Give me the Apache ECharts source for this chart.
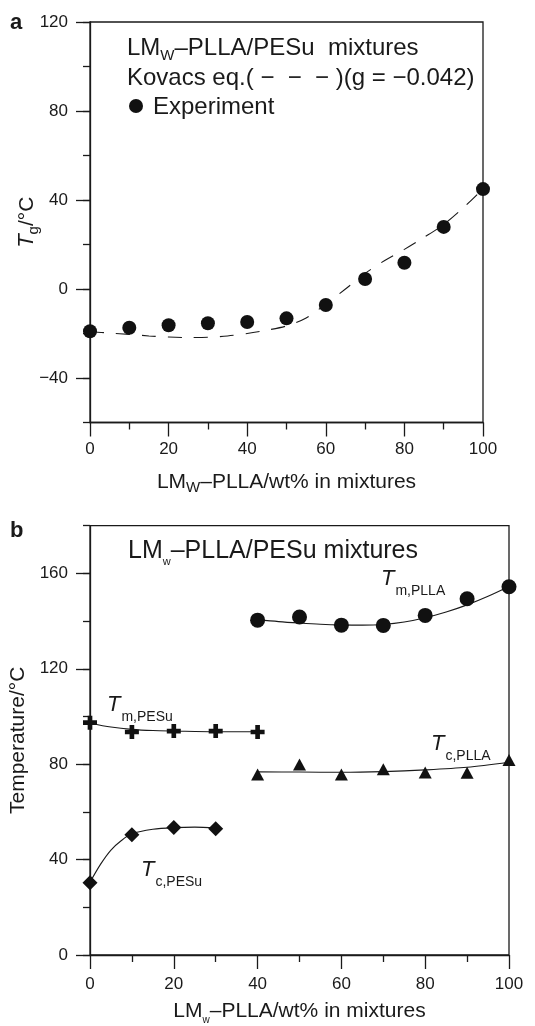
<!DOCTYPE html>
<html>
<head>
<meta charset="utf-8">
<script src="https://cdn.jsdelivr.net/npm/echarts@6/dist/echarts.min.js"></script>
<style>
  html, body { margin: 0; padding: 0; background: #fff; }
  #chart { width: 535px; height: 1026px; }
</style>
</head>
<body>
<div id="chart"></div>
<script>
// panel a: Tg of the mixtures
var tgX = [0, 10, 20, 30, 40, 50, 60, 70, 80, 90, 100];
var tgExp = [-19, -17.4, -16.3, -15.4, -14.8, -13.2, -7.2, 4.5, 11.8, 27.9, 44.9];
// Kovacs eq. curve
var kovacsX = [0, 5, 10, 15, 20, 25, 30, 35, 40, 45, 50, 55, 60, 65, 70, 75, 80, 85, 90, 95, 100];
var kovacsY = [-19.2, -19.8, -20.4, -21.1, -21.6, -21.8, -21.7, -21.1, -20.0, -18.5, -16.6, -13.0, -6.8, 0, 7.0, 12.8, 17.8, 23.2, 29.0, 36.5, 45.0];

// panel b: melting / crystallization temperatures
var pllaX = [40, 50, 60, 70, 80, 90, 100];
var tmPlla = [140.4, 141.7, 138.3, 138.2, 142.4, 149.4, 154.4];
var tcPlla = [75.7, 79.9, 75.7, 77.9, 76.5, 76.4, 81.8];
var tmPesuX = [0, 10, 20, 30, 40];
var tmPesu = [97.4, 93.5, 93.9, 93.9, 93.5];
var tcPesuX = [0, 10, 20, 30];
var tcPesu = [30.3, 50.4, 53.5, 52.9];

// fitted solid lines
var tmPllaFitX = [40, 45, 50, 55, 60, 65, 70, 75, 80, 85, 90, 95, 100];
var tmPllaFit = [140.6, 139.8, 139.2, 138.7, 138.4, 138.3, 138.6, 139.6, 141.4, 143.8, 146.8, 150.4, 154.5];
var tcPllaFitX = [40, 50, 60, 70, 80, 90, 100];
var tcPllaFit = [76.8, 76.7, 76.6, 76.9, 77.6, 78.7, 80.8];
var tmPesuFitX = [0, 5, 10, 15, 20, 30, 40];
var tmPesuFit = [97.2, 95.6, 94.6, 94.1, 93.9, 93.6, 93.6];
var tcPesuFitX = [0, 2.5, 5, 7.5, 10, 15, 20, 25, 30];
var tcPesuFit = [30.5, 38, 44, 48, 50.8, 52.7, 53.4, 53.6, 53.3];

// tick labels
var tgMajor = [-40, 0, 40, 80, 120];
var tempMajor = [0, 40, 80, 120, 160];

var FONT = 'Liberation Sans, Arial, Helvetica, sans-serif';
var INK = '#1a1a1a';
var axisLine = { show: true, onZero: false, lineStyle: { color: INK, width: 1.3 } };

function zip(xs, ys) {
  return xs.map(function (x, i) { return [x, ys[i]]; });
}
function minus(v) {
  return v < 0 ? '\u2212' + Math.abs(v) : String(v);
}

function xAxisFor(grid, name, subSize, labelMargin, gap) {
  return {
    gridIndex: grid, type: 'value', min: 0, max: 100, interval: 20,
    axisLine: axisLine,
    axisTick: { show: true, length: 14, lineStyle: { color: INK, width: 1.3 } },
    minorTick: { show: true, splitNumber: 2, length: 7, lineStyle: { color: INK, width: 1.3 } },
    splitLine: { show: false },
    axisLabel: { fontSize: 17, color: INK, margin: labelMargin, fontFamily: FONT },
    name: name, nameLocation: 'middle', nameGap: gap,
    nameTextStyle: {
      color: INK, fontFamily: FONT,
      rich: {
        n: { fontSize: 21, fontFamily: FONT, color: INK, verticalAlign: 'bottom', padding: [0, 0, 3, 0] },
        s: { fontSize: subSize, fontFamily: FONT, color: INK, verticalAlign: 'bottom' }
      }
    }
  };
}

function yMinorAxis(grid, min, max, name, gap) {
  return {
    gridIndex: grid, type: 'value', min: min, max: max, interval: 20, position: 'left',
    axisLine: axisLine,
    axisTick: { show: true, length: 7, lineStyle: { color: INK, width: 1.3 } },
    axisLabel: { show: false },
    splitLine: { show: false },
    name: name, nameLocation: 'middle', nameRotate: 90, nameGap: gap,
    nameTextStyle: {
      color: INK, fontFamily: FONT, fontSize: 21,
      rich: {
        i: { fontSize: 22, fontStyle: 'italic', fontFamily: FONT, color: INK, verticalAlign: 'bottom', padding: [0, 0, 3, 0] },
        s: { fontSize: 15, fontFamily: FONT, color: INK, verticalAlign: 'bottom' },
        n: { fontSize: 21, fontFamily: FONT, color: INK, verticalAlign: 'bottom', padding: [0, 0, 3, 0] }
      }
    }
  };
}

function yMajorAxis(grid, min, max, ticks) {
  return {
    gridIndex: grid, type: 'value', min: min, max: max, position: 'left',
    axisLine: { show: false, onZero: false },
    axisTick: { show: true, length: 14, customValues: ticks, lineStyle: { color: INK, width: 1.3 } },
    axisLabel: { customValues: ticks, fontSize: 17, color: INK, margin: 22, fontFamily: FONT, formatter: minus },
    splitLine: { show: false }
  };
}

function fitLine(xi, yi, xs, ys, dashed) {
  return {
    type: 'line', xAxisIndex: xi, yAxisIndex: yi, data: zip(xs, ys),
    smooth: 0.3, showSymbol: false, symbol: 'none', silent: true, z: 2,
    lineStyle: { color: INK, width: 1.1, type: dashed ? [14, 12] : 'solid' }
  };
}

function dots(xi, yi, xs, ys, symbol, size) {
  return {
    type: 'scatter', xAxisIndex: xi, yAxisIndex: yi, data: zip(xs, ys),
    symbol: symbol, symbolSize: size, clip: false, z: 3,
    itemStyle: { color: '#111', opacity: 1 }
  };
}

var plus = 'path://M4,0H8V4H12V8H8V12H4V8H0V4H4Z';

function tLabel(x, y, sub) {
  return {
    type: 'text', x: x, y: y, z: 10,
    style: {
      text: '{t|T}{s|' + sub + '}',
      verticalAlign: 'middle',
      rich: {
        t: { fontSize: 22, fontStyle: 'italic', fontFamily: FONT, fill: INK, color: INK, verticalAlign: 'bottom', padding: [0, 1, 8, 0] },
        s: { fontSize: 14, fontFamily: FONT, fill: INK, color: INK, verticalAlign: 'bottom' }
      }
    }
  };
}

function legendRich(size) {
  return {
    n: { fontSize: size, fontFamily: FONT, fill: INK, color: INK, verticalAlign: 'bottom', padding: [0, 0, 3, 0] },
    s: { fontSize: 15, fontFamily: FONT, fill: INK, color: INK, verticalAlign: 'bottom' },
    sl: { fontSize: 11, fontFamily: FONT, fill: INK, color: INK, verticalAlign: 'bottom' }
  };
}

var chart = echarts.init(document.getElementById('chart'), null, { renderer: 'canvas' });

chart.setOption({
  animation: false,
  backgroundColor: '#fff',
  grid: [
    { left: 90, top: 22, width: 393, height: 400.5, show: true, borderColor: INK, borderWidth: 1.3, containLabel: false },
    { left: 87, top: 525.7, width: 422, height: 432, show: true, borderColor: INK, borderWidth: 1.3, containLabel: false }
  ],
  xAxis: [
    xAxisFor(0, '{n|LM}{s|W}{n|\u2013PLLA/wt% in mixtures}', 15, 18, 49),
    xAxisFor(1, '{n|LM}{s|w}{n|\u2013PLLA/wt% in mixtures}', 10, 21, 46)
  ],
  yAxis: [
    yMinorAxis(0, -60, 120, '{i|T}{s|g}{n|/\u00b0C}', 49),
    yMajorAxis(0, -60, 120, tgMajor),
    yMinorAxis(1, 0, 180, 'Temperature/\u00b0C', 61),
    yMajorAxis(1, 0, 180, tempMajor)
  ],
  series: [
    fitLine(0, 0, kovacsX, kovacsY, true),
    dots(0, 0, tgX, tgExp, 'circle', 14),
    fitLine(1, 2, tmPllaFitX, tmPllaFit, false),
    fitLine(1, 2, tcPllaFitX, tcPllaFit, false),
    fitLine(1, 2, tmPesuFitX, tmPesuFit, false),
    fitLine(1, 2, tcPesuFitX, tcPesuFit, false),
    dots(1, 2, pllaX, tmPlla, 'circle', 15),
    dots(1, 2, pllaX, tcPlla, 'triangle', [13, 12]),
    dots(1, 2, tmPesuX, tmPesu, plus, 14),
    dots(1, 2, tcPesuX, tcPesu, 'diamond', [15, 15])
  ],
  graphic: [
    { type: 'text', x: 10, y: 23, style: { text: 'a', font: 'bold 22px ' + FONT, fill: INK, verticalAlign: 'middle' } },
    { type: 'text', x: 10, y: 531, style: { text: 'b', font: 'bold 22px ' + FONT, fill: INK, verticalAlign: 'middle' } },
    { type: 'text', x: 127, y: 50, style: { text: '{n|LM}{s|W}{n|\u2013PLLA/PESu  mixtures}', verticalAlign: 'middle', rich: legendRich(24) } },
    { type: 'text', x: 127, y: 80, style: { text: '{n|Kovacs eq.( \u2212  \u2212  \u2212 )(g = \u22120.042)}', verticalAlign: 'middle', rich: legendRich(24) } },
    { type: 'circle', shape: { cx: 136, cy: 106, r: 7 }, style: { fill: '#111' } },
    { type: 'text', x: 153, y: 107, style: { text: 'Experiment', font: '24px ' + FONT, fill: INK, verticalAlign: 'middle' } },
    { type: 'text', x: 128, y: 553, style: { text: '{n|LM}{sl|w}{n|\u2013PLLA/PESu mixtures}', verticalAlign: 'middle', rich: legendRich(25) } },
    tLabel(381, 583, 'm,PLLA'),
    tLabel(431, 748, 'c,PLLA'),
    tLabel(107, 709, 'm,PESu'),
    tLabel(141, 874, 'c,PESu')
  ]
});
</script>
</body>
</html>
